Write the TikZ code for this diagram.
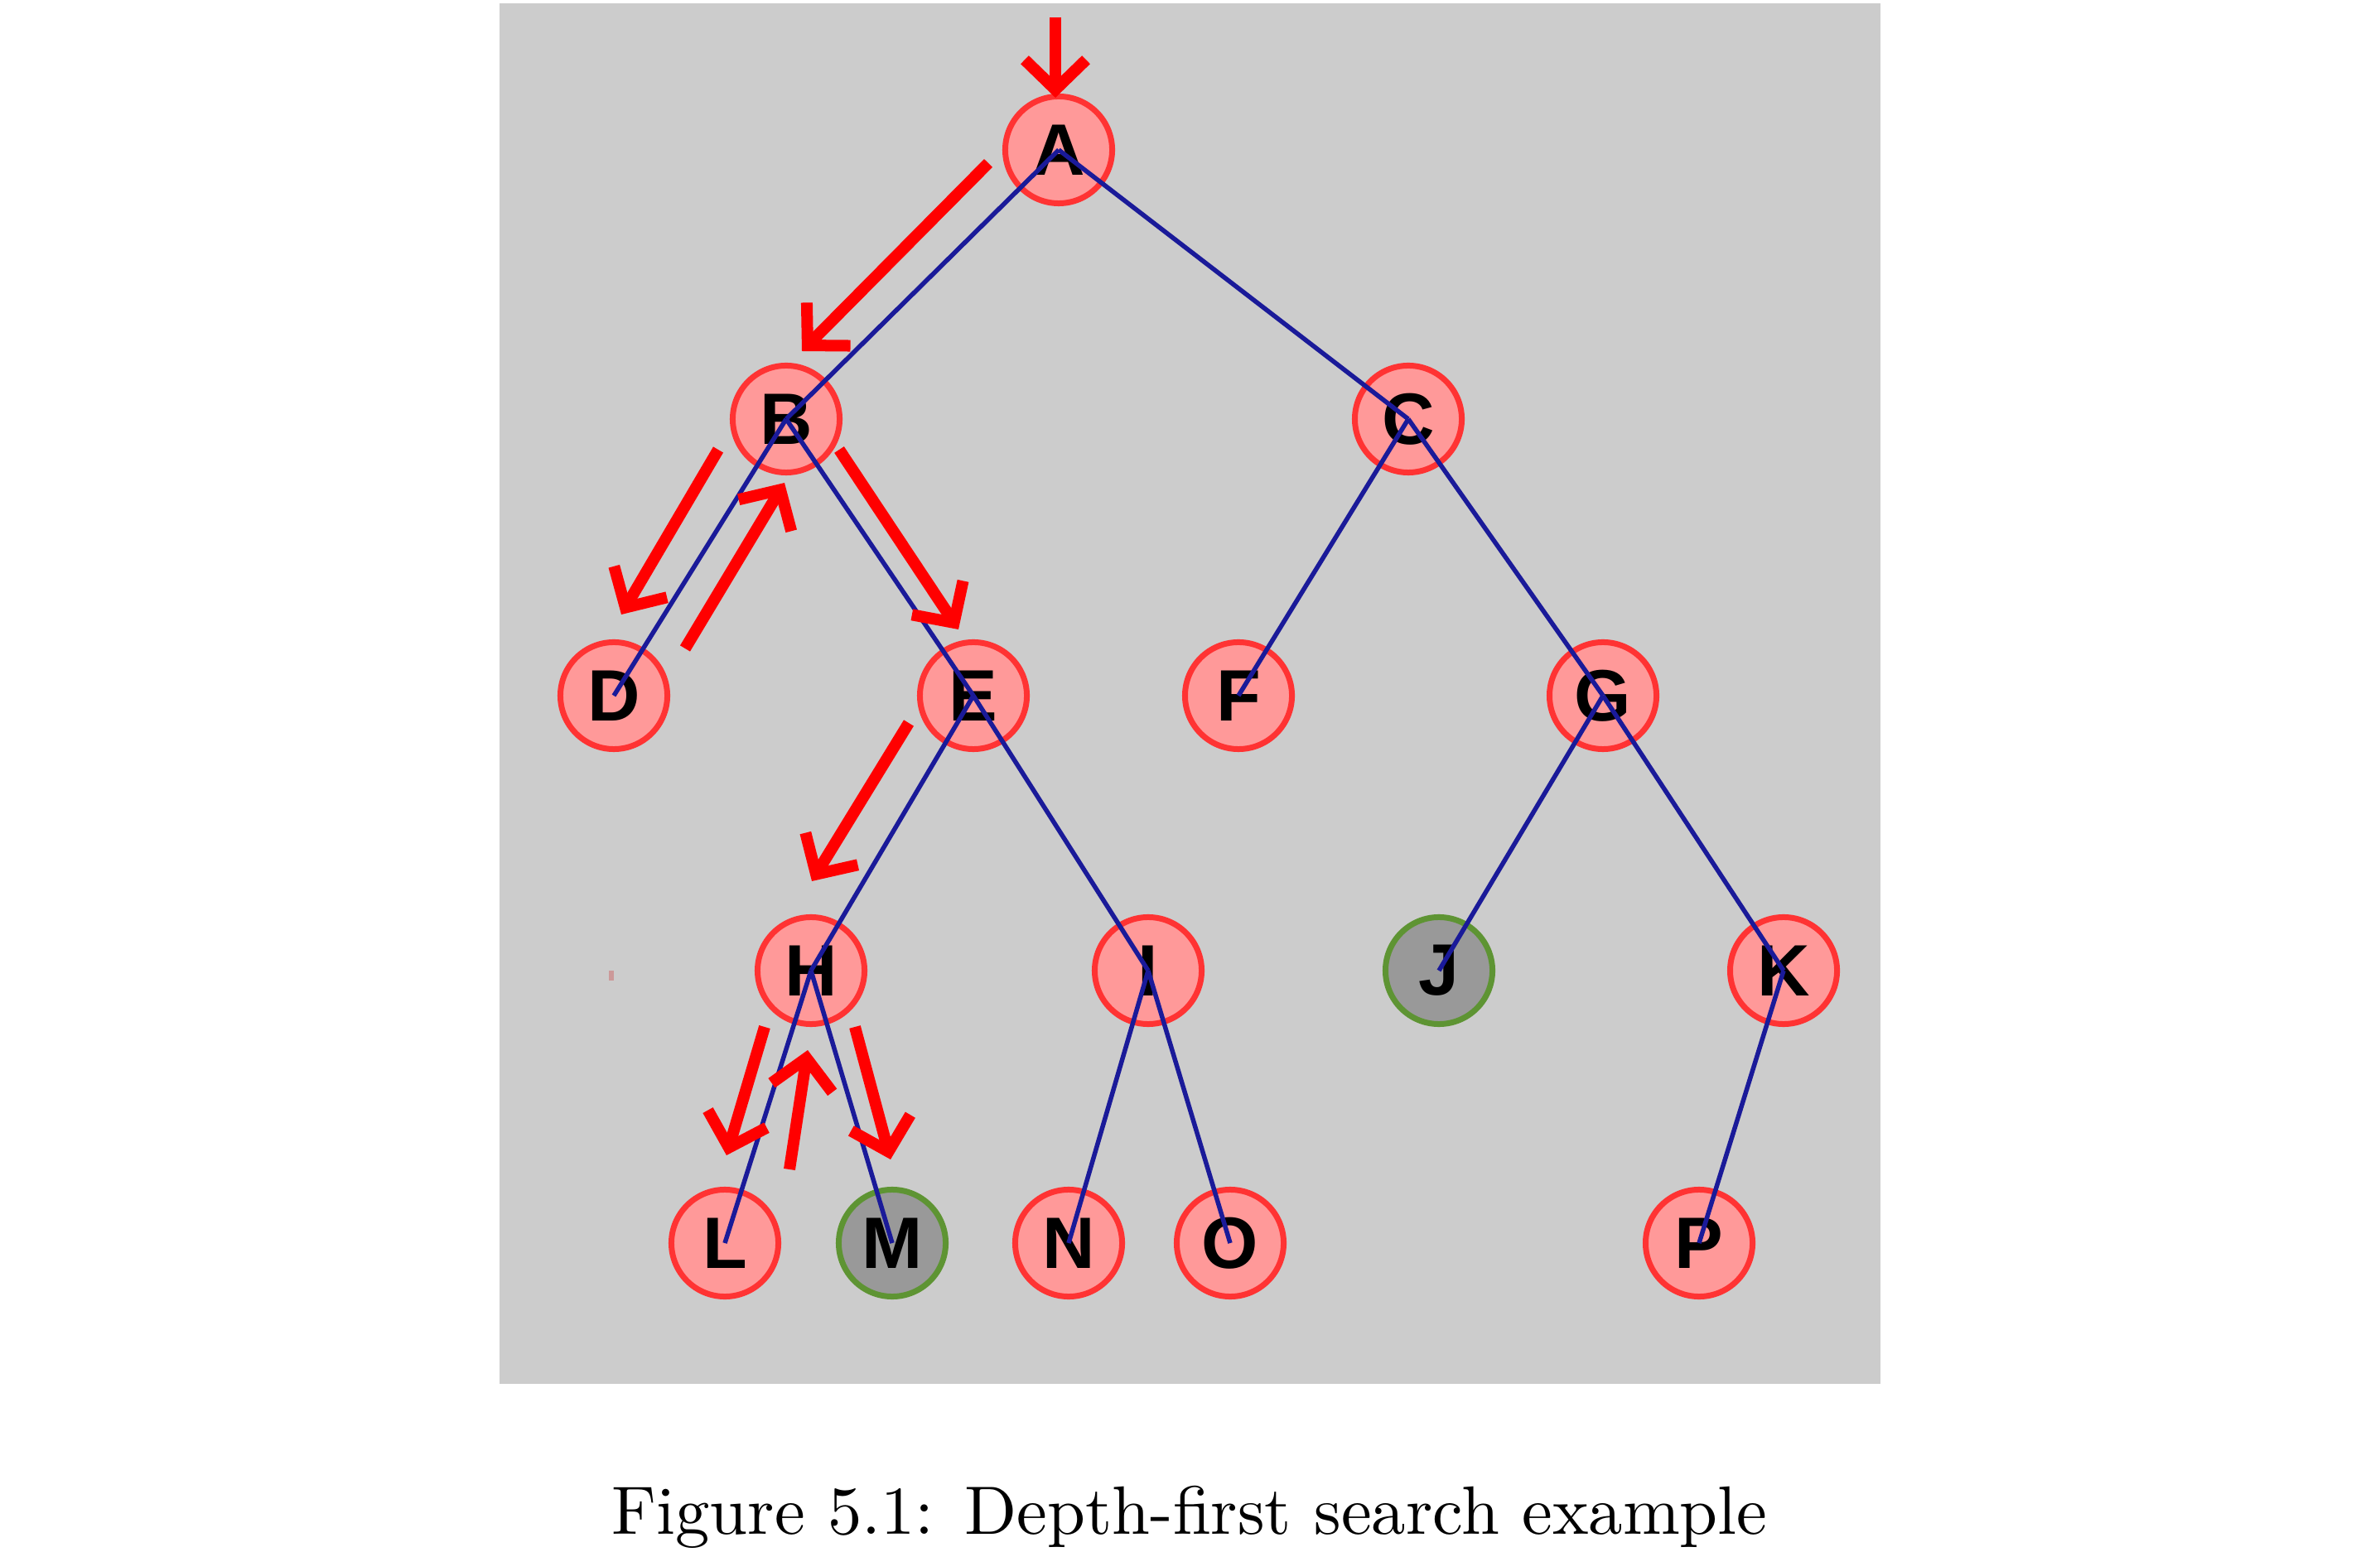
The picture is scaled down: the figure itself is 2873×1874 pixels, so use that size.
\documentclass[tikz,border=0pt]{standalone}
\usepackage{fontspec}
\newfontfamily\labelfont{Liberation Sans}
\newfontfamily\captionfont{lmroman10-regular.otf}
\usepackage{xcolor}
\usepackage{tikz}
\usetikzlibrary{arrows.meta}
\definecolor{boxgray}{HTML}{CCCCCC}
\definecolor{nodepink}{HTML}{FF9999}
\definecolor{rimred}{HTML}{FF3333}
\definecolor{goalgray}{HTML}{999999}
\definecolor{goalgreen}{HTML}{5E9433}
\definecolor{edgeblue}{HTML}{1A1A99}
\definecolor{arrowred}{HTML}{FF0000}
\definecolor{specpink}{HTML}{CC9999}

\begin{document}
\begin{tikzpicture}[x=0.01cm,y=-0.01cm,
    vertex/.style={circle,draw=rimred,fill=nodepink,line width=0.07cm,
      minimum size=1.29cm,inner sep=0pt,
      font=\labelfont\bfseries\fontsize{25}{25}\selectfont},
    goal/.style={vertex,draw=goalgreen,fill=goalgray},
    treeedge/.style={draw=edgeblue,line width=0.055cm},
    visit/.style={draw=arrowred,line width=0.14cm,
      -{Straight Barb[length=0.36cm,width=0.74cm]}}]
        \useasboundingbox (0,0) rectangle (2873,1874);
        % Grey panel
        \fill[boxgray] (603,4) rectangle (2270,1671);
        \fill[specpink] (735,1172) rectangle (741,1184);

        % Tree nodes
        \node[vertex] (A) at (1278,181) {A};
        \node[vertex] (B) at (949,506) {B};
        \node[vertex] (C) at (1700,506) {C};
        \node[vertex] (D) at (741,840) {D};
        \node[vertex] (E) at (1175,840) {E};
        \node[vertex] (F) at (1495,840) {F};
        \node[vertex] (G) at (1935,840) {G};
        \node[vertex] (H) at (979,1172) {H};
        \node[vertex] (I) at (1386,1172) {I};
        \node[goal] (J) at (1737,1172) {J};
        \node[vertex] (K) at (2153,1172) {K};
        \node[vertex] (L) at (875,1501) {L};
        \node[goal] (M) at (1077,1501) {M};
        \node[vertex] (N) at (1290,1501) {N};
        \node[vertex] (O) at (1485,1501) {O};
        \node[vertex] (P) at (2051,1501) {P};

        % Tree edges (centre to centre)
        \draw[treeedge] (A.center) -- (B.center);
        \draw[treeedge] (A.center) -- (C.center);
        \draw[treeedge] (B.center) -- (D.center);
        \draw[treeedge] (B.center) -- (E.center);
        \draw[treeedge] (C.center) -- (F.center);
        \draw[treeedge] (C.center) -- (G.center);
        \draw[treeedge] (E.center) -- (H.center);
        \draw[treeedge] (E.center) -- (I.center);
        \draw[treeedge] (G.center) -- (J.center);
        \draw[treeedge] (G.center) -- (K.center);
        \draw[treeedge] (H.center) -- (L.center);
        \draw[treeedge] (H.center) -- (M.center);
        \draw[treeedge] (I.center) -- (N.center);
        \draw[treeedge] (I.center) -- (O.center);
        \draw[treeedge] (K.center) -- (P.center);

        % Search path
        \coordinate (start) at (1274,21);
        \coordinate (startend) at (1274,118);
        \coordinate (ab1) at (1193,197);
        \coordinate (ab2) at (968,424);
        \coordinate (bd1) at (867,543);
        \coordinate (bd2) at (750,742);
        \coordinate (db1) at (827,783);
        \coordinate (db2) at (947,583);
        \coordinate (be1) at (1013,543);
        \coordinate (be2) at (1157,760);
        \coordinate (eh1) at (1097,873);
        \coordinate (eh2) at (980,1064);
        \coordinate (hl1) at (923,1240);
        \coordinate (hl2) at (877,1395);
        \coordinate (lh1) at (953,1412);
        \coordinate (lh2) at (975,1268);
        \coordinate (hm1) at (1032,1240);
        \coordinate (hm2) at (1075,1400);
        \draw[visit] (start) -- (startend);
        \draw[visit] (ab1) -- (ab2);
        \draw[visit] (bd1) -- (bd2);
        \draw[visit] (db1) -- (db2);
        \draw[visit] (be1) -- (be2);
        \draw[visit] (eh1) -- (eh2);
        \draw[visit] (hl1) -- (hl2);
        \draw[visit] (lh1) -- (lh2);
        \draw[visit] (hm1) -- (hm2);

        % Caption
        \node[anchor=base,font=\captionfont\fontsize{23.5}{28}\selectfont] (caption) at (1436,1852)
          {Figure 5.1: Depth-first search example};
    \end{tikzpicture}
\end{document}
